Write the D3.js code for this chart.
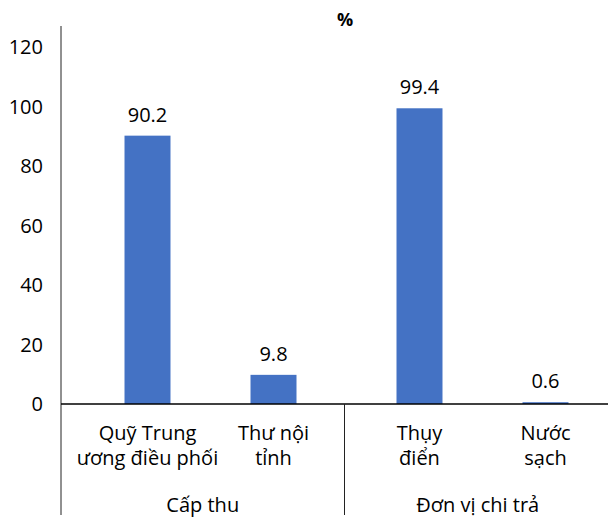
<!DOCTYPE html>
<html>
<head>
<meta charset="utf-8">
<script src="https://cdn.jsdelivr.net/npm/d3@7"></script>
<style>
  html, body { margin: 0; padding: 0; background: #fff; }
  svg { display: block; font-family: "Open Sans", sans-serif; }
</style>
</head>
<body>
<svg id="chart" width="608" height="520"></svg>
<script>
// Share of funds by source group (%)
const categories = ["Quỹ Trung|ương điều phối", "Thư nội|tỉnh", "Thụy|điển", "Nước|sạch"];
const groups = ["Cấp thu", "Cấp thu", "Đơn vị chi trả", "Đơn vị chi trả"];
const values = [90.2, 9.8, 99.4, 0.6];
const yTicks = [0, 20, 40, 60, 80, 100, 120];
const unitLabel = "%";

const svg = d3.select("#chart");
const axisLeft = 61, axisRight = 608;
const yBase = 404, yTop = 47;

const groupNames = Array.from(new Set(groups));

// Outer scale: one band per group
const xGroup = d3.scaleBand()
  .domain(groupNames)
  .range([84.5, 608.5])
  .paddingInner(0.0735)
  .paddingOuter(0);

// Inner scale: categories within a group
const xInner = d3.scaleBand()
  .domain([0, 1])
  .range([0, xGroup.bandwidth()])
  .paddingInner(0.635)
  .paddingOuter(0.3175);

const idxInGroup = categories.map((c, i) => groups.slice(0, i).filter(g => g === groups[i]).length);
const xPos = i => xGroup(groups[i]) + xInner(idxInGroup[i]);
const bw = xInner.bandwidth();

const y = d3.scaleLinear().domain([0, 120]).range([yBase, yTop]);

// Y tick labels (no gridlines)
svg.append("g")
  .selectAll("text")
  .data(yTicks)
  .join("text")
  .attr("x", 43)
  .attr("y", d => y(d))
  .attr("dy", "0.35em")
  .attr("text-anchor", "end")
  .attr("font-size", 20)
  .attr("fill", "#000")
  .text(d => d);

// Unit label
svg.append("text")
  .attr("x", 345)
  .attr("y", 26)
  .attr("text-anchor", "middle")
  .attr("font-size", 18)
  .attr("font-weight", "bold")
  .text(unitLabel);

// Bars
svg.append("g")
  .selectAll("rect")
  .data(values)
  .join("rect")
  .attr("x", (d, i) => xPos(i))
  .attr("width", bw)
  .attr("y", d => y(d))
  .attr("height", d => y(0) - y(d))
  .attr("fill", "#4472C4");

// Value labels
svg.append("g")
  .selectAll("text")
  .data(values)
  .join("text")
  .attr("x", (d, i) => xPos(i) + bw / 2)
  .attr("y", d => y(d) - 14)
  .attr("text-anchor", "middle")
  .attr("font-size", 20)
  .text(d => d.toFixed(1));

// Axis lines
svg.append("line")
  .attr("x1", axisLeft).attr("x2", axisLeft)
  .attr("y1", 26).attr("y2", 515)
  .attr("stroke", "#222").attr("stroke-width", 1);
svg.append("line")
  .attr("x1", axisLeft).attr("x2", axisRight)
  .attr("y1", yBase).attr("y2", yBase)
  .attr("stroke", "#000").attr("stroke-width", 1.3);

// Group separator between the two category groups
const sepX = (xGroup(groupNames[0]) + xGroup.bandwidth() + xGroup(groupNames[1])) / 2 - 2;
svg.append("line")
  .attr("x1", sepX).attr("x2", sepX)
  .attr("y1", yBase).attr("y2", 515)
  .attr("stroke", "#222").attr("stroke-width", 1);

// Category labels (two lines each)
const catG = svg.append("g");
categories.forEach((c, i) => {
  const cx = xPos(i) + bw / 2;
  const t = catG.append("text")
    .attr("text-anchor", "middle")
    .attr("font-size", 20);
  c.split("|").forEach((line, k) => {
    t.append("tspan").attr("x", cx).attr("y", 440 + k * 25).text(line);
  });
});

// Group labels, centred between the separator lines
const groupEdges = [axisLeft, sepX, axisRight + 3];
svg.append("g")
  .selectAll("text")
  .data(groupNames)
  .join("text")
  .attr("x", (d, i) => (groupEdges[i] + groupEdges[i + 1]) / 2)
  .attr("y", 512)
  .attr("text-anchor", "middle")
  .attr("font-size", 20)
  .text(d => d);
</script>
</body>
</html>
